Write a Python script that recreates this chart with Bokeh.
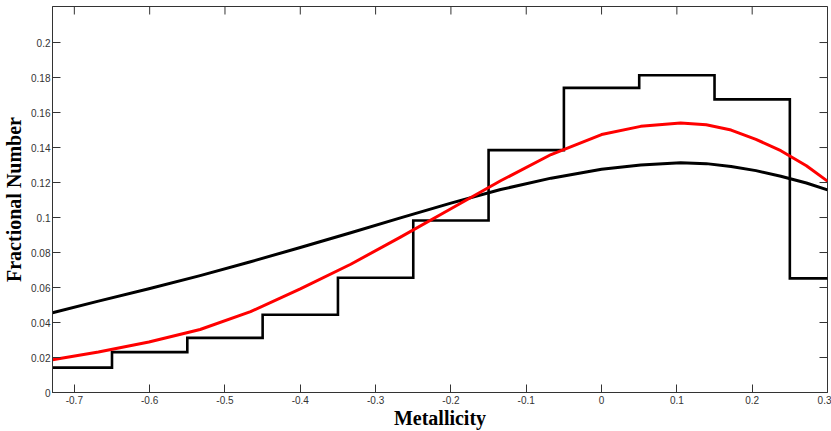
import math
from bokeh.plotting import figure
from bokeh.models import Range1d, FixedTicker
from bokeh.embed import file_html
from bokeh.resources import INLINE

# ---- data ----
bin_centers = [-0.7, -0.6, -0.5, -0.4, -0.3, -0.2, -0.1, 0.0, 0.1, 0.2, 0.3]
bin_values = [0.0142, 0.0231, 0.0312, 0.0444, 0.0656, 0.0983, 0.1385, 0.1741, 0.1813, 0.1675, 0.0652]

curve_x = [-0.729, -0.668, -0.601, -0.533, -0.466, -0.400, -0.333, -0.267, -0.200, -0.134,
           -0.067, 0.000, 0.052, 0.105, 0.139, 0.172, 0.205, 0.238, 0.272, 0.300]
black_fit = [0.0456, 0.0522, 0.0593, 0.0668, 0.0747, 0.0829, 0.0913, 0.0998, 0.1082, 0.1160,
             0.1225, 0.1276, 0.1300, 0.1313, 0.1308, 0.1292, 0.1268, 0.1236, 0.1197, 0.1158]
red_fit = [0.0187, 0.0232, 0.0289, 0.0360, 0.0462, 0.0592, 0.0733, 0.0888, 0.1050, 0.1210,
           0.1360, 0.1474, 0.1521, 0.1540, 0.1530, 0.1500, 0.1447, 0.1382, 0.1296, 0.1208]

x_ticks = [-0.7, -0.6, -0.5, -0.4, -0.3, -0.2, -0.1, 0.0, 0.1, 0.2, 0.3]
x_tick_labels = ["-0.7", "-0.6", "-0.5", "-0.4", "-0.3", "-0.2", "-0.1", "0", "0.1", "0.2", "0.3"]
y_ticks = [0.0, 0.02, 0.04, 0.06, 0.08, 0.10, 0.12, 0.14, 0.16, 0.18, 0.20]
y_tick_labels = ["0", "0.02", "0.04", "0.06", "0.08", "0.1", "0.12", "0.14", "0.16", "0.18", "0.2"]

x_label = "Metallicity"
y_label = "Fractional Number"

X_MIN, X_MAX = -0.729, 0.3
Y_MIN, Y_MAX = 0.0, 0.2206

AX = "#333333"

p = figure(width=831, height=431, output_backend="svg", toolbar_location=None,
           x_range=Range1d(X_MIN, X_MAX), y_range=Range1d(Y_MIN, Y_MAX),
           min_border_left=52, min_border_right=4, min_border_top=6, min_border_bottom=36)
p.grid.visible = False
p.background_fill_color = "white"
p.border_fill_color = "white"
p.outline_line_color = AX
p.outline_line_width = 1

# histogram as steps
half = (bin_centers[1] - bin_centers[0]) / 2.0
hx, hy = [], []
for c, v in zip(bin_centers, bin_values):
    hx += [c - half, c + half]
    hy += [v, v]
p.line(hx, hy, line_color="black", line_width=2.6, line_join="miter")

p.line(curve_x, black_fit, line_color="black", line_width=3, line_join="round")
p.line(curve_x, red_fit, line_color="#ff0000", line_width=3, line_join="round")

# mirrored inward ticks on top and right edges (half of each dash is clipped by the frame)
p.scatter(x_ticks, [Y_MAX] * len(x_ticks), marker="dash", size=16, angle=math.pi / 2,
          line_color=AX, line_width=1)
p.scatter([X_MAX] * len(y_ticks), y_ticks, marker="dash", size=16,
          line_color=AX, line_width=1)

def style_axis(ax, ticks, labels):
    ax.ticker = FixedTicker(ticks=ticks)
    ax.major_label_overrides = {t: l for t, l in zip(ticks, labels)}
    ax.axis_line_color = AX
    ax.major_tick_line_color = AX
    ax.major_tick_in = 8
    ax.major_tick_out = 0
    ax.minor_tick_line_color = None
    ax.major_label_text_font = "Liberation Sans"
    ax.major_label_text_color = "#333333"
    ax.major_label_text_font_size = "10px"
    ax.axis_label_text_font = "Liberation Serif"
    ax.axis_label_text_font_style = "bold"
    ax.axis_label_text_font_size = "20px"
    ax.axis_label_text_color = "black"

style_axis(p.xaxis[0], x_ticks, x_tick_labels)
p.xaxis[0].major_label_standoff = 3
p.xaxis[0].axis_label = x_label
p.xaxis[0].axis_label_standoff = 0

style_axis(p.yaxis[0], y_ticks, y_tick_labels)
p.yaxis[0].major_label_standoff = 2
p.yaxis[0].axis_label = y_label
p.yaxis[0].axis_label_standoff = 3

open("out.html", "w").write(file_html(p, INLINE))
